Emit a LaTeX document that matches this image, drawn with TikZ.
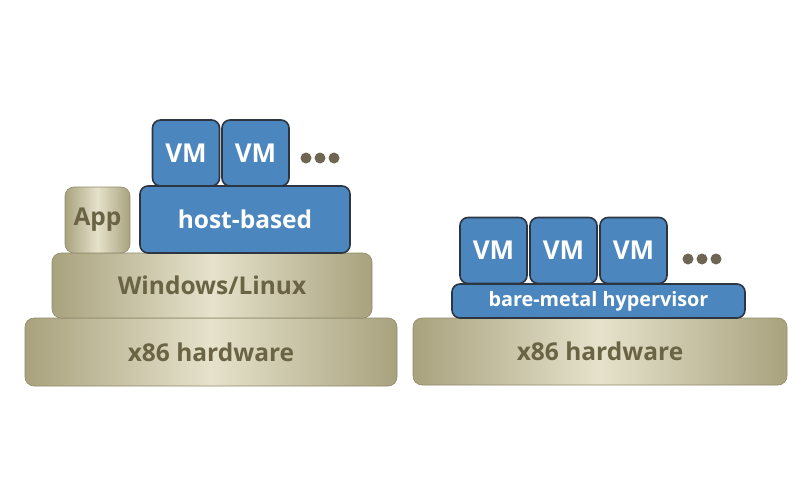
\documentclass[tikz,border=0pt]{standalone}
\usepackage{fontspec}
\setsansfont{Open Sans}
\definecolor{vmblue}{HTML}{4C86BE}
\definecolor{vmedge}{HTML}{2C3540}
\definecolor{khakidark}{HTML}{A8A27E}
\definecolor{khakilight}{HTML}{E6E2CB}
\definecolor{khakitext}{HTML}{6A6445}
\definecolor{dotgray}{HTML}{6E6552}
\begin{document}
\begin{tikzpicture}[x=1pt,y=-1pt,font=\sffamily\bfseries\fontsize{24.5}{27}\selectfont,layer/.style={rounded corners=9pt,draw=khakidark!85!black,line width=0.6pt,left color=khakidark,right color=khakidark,middle color=khakilight,text=khakitext,inner sep=0pt},bluebox/.style={rounded corners=8pt,draw=vmedge,line width=1.6pt,fill=vmblue,text=white,inner sep=0pt},vmbox/.style={bluebox,minimum width=67pt,minimum height=66pt,font=\sffamily\bfseries\fontsize{26}{28}\selectfont},dot/.style={circle,fill=dotgray,inner sep=0pt,minimum size=11pt}]
\useasboundingbox (0,0) rectangle (810,500);
% host-based stack
\node[layer,minimum width=372pt,minimum height=68pt] (hwleft) at (211,352){x86 hardware};
\node[layer,minimum width=320pt,minimum height=65pt] (os) at (212,285.5){Windows/Linux};
\node[layer,minimum width=65pt,minimum height=66pt] (app) at (97.5,220){App};
\node[bluebox,minimum width=210pt,minimum height=67pt] (host) at (245,219.5){host-based};
\node[vmbox] (vmone) at (186,153){VM};
\node[vmbox] (vmtwo) at (255.5,153){VM};
\node[dot] (dotone) at (306,158){};\node[dot] (dottwo) at (320,158){};\node[dot] (dotthree) at (334,158){};
% bare-metal stack
\node[layer,minimum width=374pt,minimum height=67pt] (hwright) at (600,351.5){x86 hardware};
\node[bluebox,minimum width=293pt,minimum height=34pt,font=\sffamily\bfseries\fontsize{19.8}{21}\selectfont] (hyp) at (598.5,301){bare-metal hypervisor};
\node[vmbox] (vmthree) at (493.5,250.5){VM};
\node[vmbox] (vmfour) at (563.5,250.5){VM};
\node[vmbox] (vmfive) at (633.5,250.5){VM};
\node[dot] (dotfour) at (688,259){};\node[dot] (dotfive) at (702,259){};\node[dot] (dotsix) at (716,259){};
\end{tikzpicture}
\end{document}
